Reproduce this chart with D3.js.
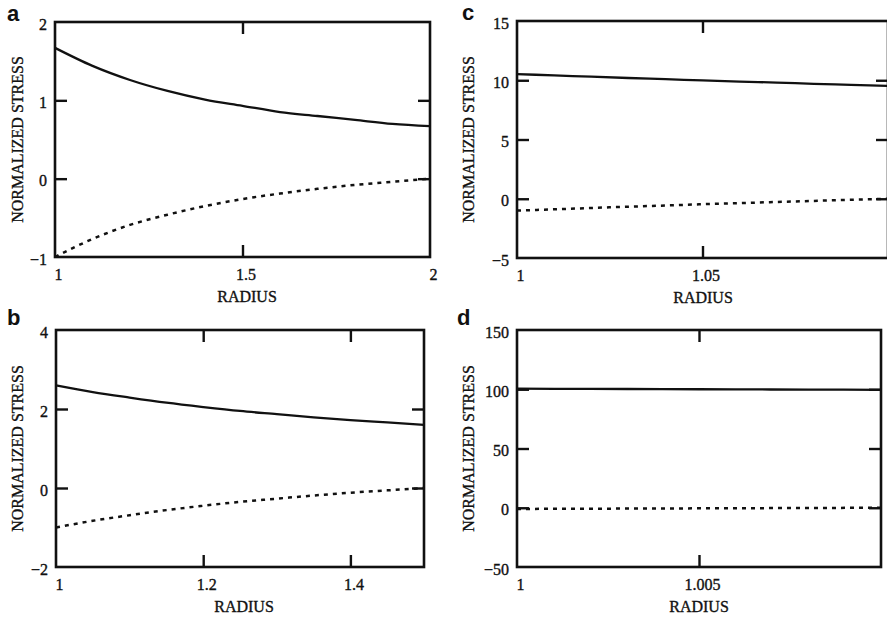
<!DOCTYPE html>
<html>
<head>
<meta charset="utf-8">
<script src="https://cdn.jsdelivr.net/npm/d3@7"></script>
<style>
  html, body { margin: 0; padding: 0; background: #fff; }
  svg { display: block; }
  .tick-label text { font-family: "Liberation Serif", "Times New Roman", serif; font-size: 16px; fill: #111; stroke: #111; stroke-width: 0.35px; }
  .axis-title { font-family: "Liberation Serif", "Times New Roman", serif; font-size: 16px; fill: #111; stroke: #111; stroke-width: 0.35px; }
  .panel-letter { font-family: "Liberation Sans", Arial, sans-serif; font-size: 22px; font-weight: bold; fill: #111; }
</style>
</head>
<body>
<svg id="chart" width="887" height="617"></svg>
<script>
// Panel a: outer radius 2
const radiusA = [1, 1.1, 1.2, 1.3, 1.4, 1.5, 1.6, 1.7, 1.8, 1.9, 2];
const hoopA   = [1.67, 1.44, 1.26, 1.12, 1.01, 0.93, 0.85, 0.80, 0.75, 0.70, 0.67];
const radialA = [-1, -0.77, -0.59, -0.46, -0.35, -0.26, -0.19, -0.13, -0.08, -0.04, 0];

// Panel b: outer radius 1.5
const radiusB = [1, 1.05, 1.1, 1.15, 1.2, 1.25, 1.3, 1.35, 1.4, 1.45, 1.5];
const hoopB   = [2.6, 2.43, 2.29, 2.16, 2.05, 1.95, 1.87, 1.79, 1.72, 1.66, 1.6];
const radialB = [-1, -0.83, -0.69, -0.56, -0.45, -0.35, -0.27, -0.19, -0.12, -0.06, 0];

// Panel c: outer radius 1.1
const radiusC = [1, 1.01, 1.02, 1.03, 1.04, 1.05, 1.06, 1.07, 1.08, 1.09, 1.1];
const hoopC   = [10.52, 10.41, 10.30, 10.19, 10.09, 9.99, 9.89, 9.80, 9.70, 9.61, 9.52];
const radialC = [-1, -0.89, -0.78, -0.67, -0.57, -0.46, -0.37, -0.27, -0.18, -0.09, 0];

// Panel d: outer radius 1.01
const radiusD = [1, 1.002, 1.004, 1.006, 1.008, 1.01];
const hoopD   = [100.5, 100.3, 100.1, 99.9, 99.7, 99.5];
const radialD = [-1, -0.8, -0.6, -0.4, -0.2, 0];

// Axis ticks and their printed labels
const xTicksA = [1, 1.5, 2];        const xLabelsA = ["1", "1.5", "2"];
const yTicksA = [-1, 0, 1, 2];      const yLabelsA = ["\u22121", "0", "1", "2"];
const xTicksB = [1, 1.2, 1.4];      const xLabelsB = ["1", "1.2", "1.4"];
const yTicksB = [-2, 0, 2, 4];      const yLabelsB = ["\u22122", "0", "2", "4"];
const xTicksC = [1, 1.05];          const xLabelsC = ["1", "1.05"];
const yTicksC = [-5, 0, 5, 10, 15]; const yLabelsC = ["\u22125", "0", "5", "10", "15"];
const xTicksD = [1, 1.005];         const xLabelsD = ["1", "1.005"];
const yTicksD = [-50, 0, 50, 100, 150]; const yLabelsD = ["\u221250", "0", "50", "100", "150"];

const xTitle = "RADIUS";
const yTitle = "NORMALIZED STRESS";

const panels = [
  { letter: "a", r: radiusA, hoop: hoopA, radial: radialA, xd: [1, 2],    yd: [-1, 2],
    xt: xTicksA, xl: xLabelsA, yt: yTicksA, yl: yLabelsA,
    box: { l: 55, r: 430, t: 22, b: 257 }, letterPos: [7, 21], ytx: 17, xtx: 247 },
  { letter: "b", r: radiusB, hoop: hoopB, radial: radialB, xd: [1, 1.5],  yd: [-2, 4],
    xt: xTicksB, xl: xLabelsB, yt: yTicksB, yl: yLabelsB,
    box: { l: 56, r: 424, t: 330, b: 567 }, letterPos: [7, 325], ytx: 17, xtx: 244 },
  { letter: "c", r: radiusC, hoop: hoopC, radial: radialC, xd: [1, 1.1],  yd: [-5, 15],
    xt: xTicksC, xl: xLabelsC, yt: yTicksC, yl: yLabelsC,
    box: { l: 517, r: 888, t: 21, b: 258 }, letterPos: [462, 20], ytx: 468, xtx: 703 },
  { letter: "d", r: radiusD, hoop: hoopD, radial: radialD, xd: [1, 1.01], yd: [-50, 150],
    xt: xTicksD, xl: xLabelsD, yt: yTicksD, yl: yLabelsD,
    box: { l: 517, r: 881, t: 330, b: 567 }, letterPos: [457, 325], ytx: 468, xtx: 699 }
];

const svg = d3.select("#chart");
const ink = "#111";
const tickLen = 12;

panels.forEach(p => {
  const B = p.box;
  const x = d3.scaleLinear().domain(p.xd).range([B.l, B.r]);
  const y = d3.scaleLinear().domain(p.yd).range([B.b, B.t]);
  const g = svg.append("g");

  // inward tick marks on all four sides (interior ticks only)
  const innerX = p.xt.filter(v => v > p.xd[0] && v < p.xd[1]);
  const innerY = p.yt.filter(v => v > p.yd[0] && v < p.yd[1]);
  const markStyle = sel => {
    sel.select(".domain").remove();
    sel.selectAll("line").attr("stroke", ink).attr("stroke-width", 2.4);
    sel.selectAll("text").remove();
  };
  g.append("g").attr("transform", `translate(0,${B.b})`)
    .call(d3.axisBottom(x).tickValues(innerX).tickSize(-tickLen)).call(markStyle);
  g.append("g").attr("transform", `translate(0,${B.t})`)
    .call(d3.axisTop(x).tickValues(innerX).tickSize(-tickLen)).call(markStyle);
  g.append("g").attr("transform", `translate(${B.l},0)`)
    .call(d3.axisLeft(y).tickValues(innerY).tickSize(-tickLen)).call(markStyle);
  g.append("g").attr("transform", `translate(${B.r},0)`)
    .call(d3.axisRight(y).tickValues(innerY).tickSize(-tickLen)).call(markStyle);

  // tick labels
  const xl = g.append("g").attr("class", "tick-label")
    .attr("transform", `translate(3,${B.b})`)
    .call(d3.axisBottom(x).tickValues(p.xt).tickSize(0).tickPadding(12)
      .tickFormat((d, i) => p.xl[i]));
  xl.select(".domain").remove();

  const yl = g.append("g").attr("class", "tick-label")
    .attr("transform", `translate(${B.l},2)`)
    .call(d3.axisLeft(y).tickValues(p.yt).tickSize(0).tickPadding(8)
      .tickFormat((d, i) => p.yl[i]));
  yl.select(".domain").remove();

  // frame
  g.append("rect")
    .attr("x", B.l).attr("y", B.t)
    .attr("width", B.r - B.l).attr("height", B.b - B.t)
    .attr("fill", "none").attr("stroke", ink).attr("stroke-width", 2.6);

  // curves: hoop stress solid, radial stress dashed
  const line = d3.line().x(d => x(d[0])).y(d => y(d[1])).curve(d3.curveMonotoneX);
  g.append("path")
    .datum(p.r.map((r, i) => [r, p.hoop[i]]))
    .attr("d", line).attr("fill", "none")
    .attr("stroke", ink).attr("stroke-width", 2.3);
  g.append("path")
    .datum(p.r.map((r, i) => [r, p.radial[i]]))
    .attr("d", line).attr("fill", "none")
    .attr("stroke", ink).attr("stroke-width", 2.5)
    .attr("stroke-dasharray", "4,5");

  // titles
  g.append("text").attr("class", "axis-title")
    .attr("x", p.xtx).attr("y", B.b + 45)
    .attr("text-anchor", "middle").text(xTitle);
  g.append("text").attr("class", "axis-title")
    .attr("transform", `translate(${p.ytx},${(B.t + B.b) / 2}) rotate(-90)`)
    .attr("text-anchor", "middle").attr("dy", "0.35em").text(yTitle);

  g.append("text").attr("class", "panel-letter")
    .attr("x", p.letterPos[0]).attr("y", p.letterPos[1]).text(p.letter);
});
</script>
</body>
</html>
